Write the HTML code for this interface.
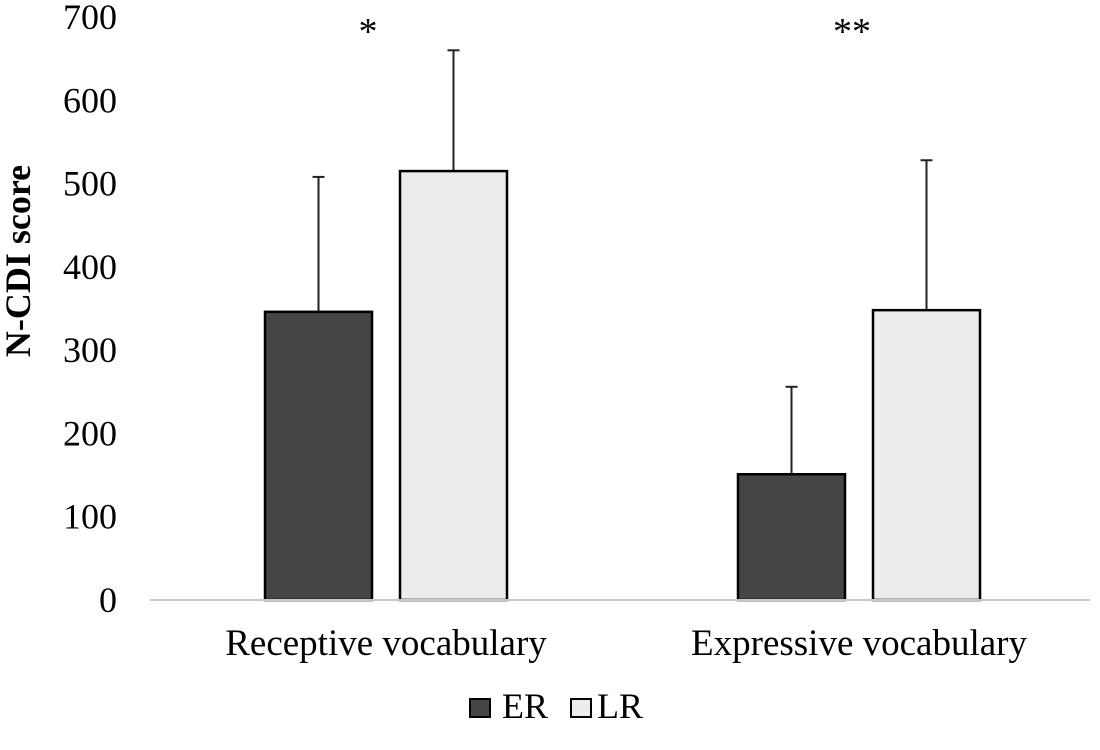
<!DOCTYPE html>
<html><head><meta charset="utf-8"><style>
body{margin:0;background:#fff;}
svg{display:block;font-family:"Liberation Serif",serif;}
</style></head><body>
<svg id="chart" width="1100" height="750" viewBox="0 0 1100 750">
<g id="yaxis"></g>
<g id="bars"></g>
<line x1="150" y1="600" x2="1090" y2="600" stroke="#c8c8c8" stroke-width="2"/>
<text transform="translate(30,261) rotate(-90)" text-anchor="middle" font-size="36" font-weight="bold">N-CDI score</text>
<g>
<rect x="470" y="699" width="20" height="18" fill="#454545" stroke="#000" stroke-width="2"/>
<text x="502" y="718" font-size="36">ER</text>
<rect x="571" y="699" width="20" height="18" fill="#ececec" stroke="#000" stroke-width="2"/>
<text x="597" y="718" font-size="36">LR</text>
</g>
</svg>
<script>
const categories=["Receptive vocabulary","Expressive vocabulary"];
const erValues=[346,151];
const erErrors=[162,105];
const lrValues=[515,348];
const lrErrors=[145,180];
const significance=["*","**"];
const yTicks=[0,100,200,300,400,500,600,700];

const NS="http://www.w3.org/2000/svg";
const y0=600, pxPer=583/700;
function y(v){return y0-v*pxPer;}
const centers=[386,859];
function mk(tag,attrs,parent,txt){const e=document.createElementNS(NS,tag);for(const k in attrs)e.setAttribute(k,attrs[k]);if(txt!==undefined)e.textContent=txt;parent.appendChild(e);return e;}
const ya=document.getElementById('yaxis');
yTicks.forEach(t=>{
  const e=mk('text',{x:117,y:y(t)+12,'text-anchor':'end','font-size':'36'},ya,String(t));
  
  
});
const bg=document.getElementById('bars');
const bw=107, gap=28;
categories.forEach((c,i)=>{
  const series=[[erValues[i],erErrors[i],'#454545','er'],[lrValues[i],lrErrors[i],'#ececec','lr']];
  series.forEach((s,j)=>{
    const x=centers[i]-gap/2-bw+j*(bw+gap);
    const cx=x+bw/2;
    const l=mk('line',{x1:cx,y1:y(s[0]),x2:cx,y2:y(s[0]+s[1]),stroke:'#222','stroke-width':'2'},bg);
    
    
    const cap=mk('line',{x1:cx-6,y1:y(s[0]+s[1]),x2:cx+6,y2:y(s[0]+s[1]),stroke:'#222','stroke-width':'2'},bg);
    
    
    const r=mk('rect',{x:x,y:y(s[0]),width:bw,height:y0-y(s[0]),fill:s[2],stroke:'#000','stroke-width':'2.5'},bg);
    
    
  });
  const lab=mk('text',{x:centers[i],y:655,'text-anchor':'middle','font-size':'37'},bg,c);
  
  
  const st=mk('text',{x:centers[i]-18+(i?11:0),y:44,'text-anchor':'middle','font-size':'38'},bg,significance[i]);
  
  
});
</script>
</body></html>
